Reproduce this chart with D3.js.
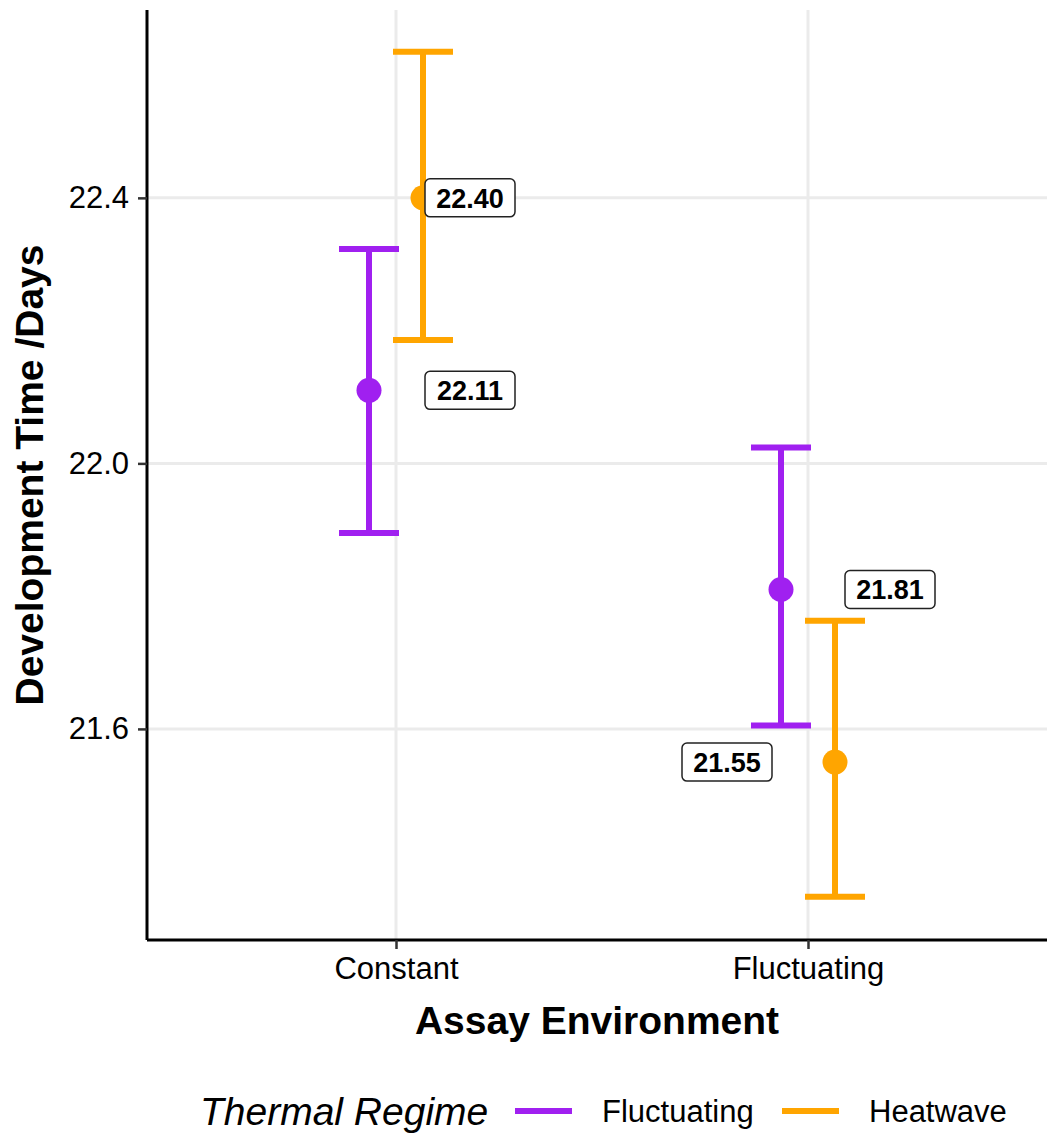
<!DOCTYPE html>
<html lang="en">
<head>
<meta charset="utf-8">
<title>Development Time</title>
<script src="https://cdn.jsdelivr.net/npm/d3@7"></script>
<style>
  body { margin: 0; background: #ffffff; }
  svg text { font-family: "Liberation Sans", Arial, Helvetica, sans-serif; }
</style>
</head>
<body>
<svg id="chart" width="1047" height="1133"></svg>
<script>
// data
var environments = ["Constant", "Fluctuating"];
var regimes = ["Fluctuating", "Heatwave"];
var regimeColours = ["#a020f0", "#ffa500"];
// one row per environment, one column per regime
var means = [[22.11, 22.40], [21.81, 21.55]];
var lower = [[21.895, 22.186], [21.605, 21.347]];
var upper = [[22.323, 22.620], [22.024, 21.763]];
var yTicks = [21.6, 22.0, 22.4];

// label nudges in px (repelled labels), same layout as means
var labelDx = [[101, 47], [109, -108]];

var svg = d3.select("#chart");
var pLeft = 147, pRight = 1047, pTop = 10, pBottom = 940;

var x = d3.scalePoint().domain(environments).range([396, 808]);
var dodge = d3.scalePoint().domain(regimes).range([-27, 27]);
var y = d3.scaleLinear().domain([21.282, 22.683]).range([pBottom, pTop]);
var colour = d3.scaleOrdinal().domain(regimes).range(regimeColours);

// grid
var grid = svg.append("g");
grid.selectAll("line.h").data(yTicks).enter().append("line")
  .attr("x1", pLeft).attr("x2", pRight)
  .attr("y1", d => y(d)).attr("y2", d => y(d))
  .attr("stroke", "#ebebeb").attr("stroke-width", 3);
grid.selectAll("line.v").data(environments).enter().append("line")
  .attr("x1", d => x(d)).attr("x2", d => x(d))
  .attr("y1", pTop).attr("y2", pBottom)
  .attr("stroke", "#ebebeb").attr("stroke-width", 3);

// flatten rows
var rows = [];
environments.forEach(function(e, i) {
  regimes.forEach(function(r, j) {
    rows.push({env: e, reg: r, m: means[i][j], lo: lower[i][j], hi: upper[i][j], dx: labelDx[i][j]});
  });
});

var capHalf = 30;
var bars = svg.append("g").selectAll("g").data(rows).enter().append("g")
  .attr("stroke", d => colour(d.reg)).attr("stroke-width", 6);
bars.append("line")
  .attr("x1", d => x(d.env) + dodge(d.reg)).attr("x2", d => x(d.env) + dodge(d.reg))
  .attr("y1", d => y(d.hi)).attr("y2", d => y(d.lo));
bars.append("line")
  .attr("x1", d => x(d.env) + dodge(d.reg) - capHalf).attr("x2", d => x(d.env) + dodge(d.reg) + capHalf)
  .attr("y1", d => y(d.hi)).attr("y2", d => y(d.hi));
bars.append("line")
  .attr("x1", d => x(d.env) + dodge(d.reg) - capHalf).attr("x2", d => x(d.env) + dodge(d.reg) + capHalf)
  .attr("y1", d => y(d.lo)).attr("y2", d => y(d.lo));

svg.append("g").selectAll("circle").data(rows).enter().append("circle")
  .attr("cx", d => x(d.env) + dodge(d.reg))
  .attr("cy", d => y(d.m))
  .attr("r", 12.5)
  .attr("fill", d => colour(d.reg));

// value labels
var labs = svg.append("g").selectAll("g").data(rows).enter().append("g")
  .attr("transform", d => "translate(" + (x(d.env) + dodge(d.reg) + d.dx) + "," + y(d.m) + ")");
labs.append("rect")
  .attr("x", -45).attr("y", -19).attr("width", 90).attr("height", 38)
  .attr("rx", 5).attr("fill", "#ffffff").attr("stroke", "#222").attr("stroke-width", 1.5);
labs.append("text")
  .attr("text-anchor", "middle").attr("dy", "0.36em")
  .attr("font-size", 27).attr("font-weight", "bold")
  .text(d => d.m.toFixed(2));

// axes
var yAxis = svg.append("g").attr("transform", "translate(" + pLeft + ",0)")
  .call(d3.axisLeft(y).tickValues(yTicks).tickFormat(d3.format(".1f")).tickSize(9).tickPadding(9));
var xAxis = svg.append("g").attr("transform", "translate(0," + pBottom + ")")
  .call(d3.axisBottom(x).tickSize(9).tickPadding(8));
[yAxis, xAxis].forEach(function(a) {
  a.select(".domain").attr("stroke", "#000").attr("stroke-width", 3);
  a.selectAll(".tick line").attr("stroke", "#333").attr("stroke-width", 2.5);
  a.selectAll(".tick text").attr("fill", "#000").attr("font-size", 31)
    .attr("font-family", "Liberation Sans, Arial, sans-serif");
});
yAxis.select(".domain").attr("d", "M0," + pTop + "V" + pBottom);
xAxis.select(".domain").attr("d", "M" + pLeft + ",0H" + pRight);

// titles
svg.append("text").attr("x", (pLeft + pRight) / 2).attr("y", 1034).attr("text-anchor", "middle")
  .attr("font-size", 39).attr("font-weight", "bold").text("Assay Environment");
svg.append("text").attr("transform", "translate(43," + (pTop + pBottom) / 2 + ") rotate(-90)")
  .attr("text-anchor", "middle")
  .attr("font-size", 39).attr("font-weight", "bold").text("Development Time /Days");

// legend
var legend = svg.append("g").attr("transform", "translate(0,1111)");
legend.append("text").attr("x", 200).attr("dy", "0.36em").attr("font-size", 39)
  .attr("font-style", "italic").text("Thermal Regime");
var keyX = [515, 782];
var item = legend.selectAll("g.item").data(regimes).enter().append("g")
  .attr("transform", (d, i) => "translate(" + keyX[i] + ",0)");
item.append("line").attr("x1", 0).attr("x2", 57)
  .attr("stroke", d => colour(d)).attr("stroke-width", 6);
item.append("text").attr("x", 87).attr("dy", "0.36em").attr("font-size", 31).text(d => d);
</script>
</body>
</html>
